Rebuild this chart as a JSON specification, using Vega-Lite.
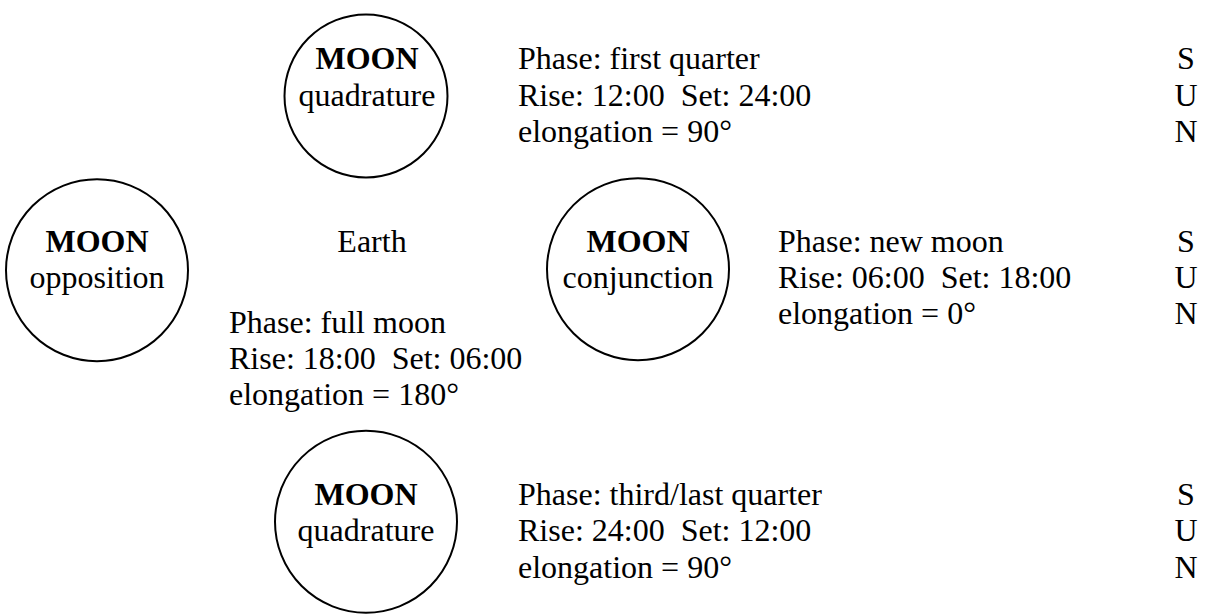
{
  "$schema": "https://vega.github.io/schema/vega-lite/v6.json",
  "width": 1209,
  "height": 615,
  "padding": 0,
  "autosize": {"type": "fit", "contains": "padding"},
  "background": "white",
  "config": {
    "view": {"stroke": null},
    "text": {"font": "Liberation Serif", "fontSize": 32, "color": "black", "baseline": "alphabetic"}
  },
  "datasets": {
    "moons": [
      {"pos": "top", "x": 366, "y": 98, "d": 163},
      {"pos": "left", "x": 97, "y": 276, "d": 182},
      {"pos": "middle", "x": 638, "y": 275, "d": 182},
      {"pos": "bottom", "x": 366, "y": 533, "d": 182}
    ],
    "titles": [
      {"x": 367, "y": 71, "label": "MOON"},
      {"x": 97, "y": 257, "label": "MOON"},
      {"x": 638, "y": 257, "label": "MOON"},
      {"x": 366, "y": 516, "label": "MOON"}
    ],
    "centered": [
      {"x": 367, "y": 108, "label": "quadrature"},
      {"x": 97, "y": 294, "label": "opposition"},
      {"x": 638, "y": 294, "label": "conjunction"},
      {"x": 366, "y": 553, "label": "quadrature"},
      {"x": 372, "y": 257, "label": "Earth"},
      {"x": 1186, "y": 71, "label": "S"},
      {"x": 1186, "y": 108, "label": "U"},
      {"x": 1186, "y": 145, "label": "N"},
      {"x": 1186, "y": 257, "label": "S"},
      {"x": 1186, "y": 294, "label": "U"},
      {"x": 1186, "y": 331, "label": "N"},
      {"x": 1186, "y": 516, "label": "S"},
      {"x": 1186, "y": 553, "label": "U"},
      {"x": 1186, "y": 590, "label": "N"}
    ],
    "info": [
      {"x": 518, "y": 71, "label": "Phase: first quarter"},
      {"x": 518, "y": 108, "label": "Rise: 12:00\u00a0 Set: 24:00"},
      {"x": 518, "y": 145, "label": "elongation = 90°"},
      {"x": 778, "y": 257, "label": "Phase: new moon"},
      {"x": 778, "y": 294, "label": "Rise: 06:00\u00a0 Set: 18:00"},
      {"x": 778, "y": 331, "label": "elongation = 0°"},
      {"x": 229, "y": 340, "label": "Phase: full moon"},
      {"x": 229, "y": 377, "label": "Rise: 18:00\u00a0 Set: 06:00"},
      {"x": 229, "y": 414, "label": "elongation = 180°"},
      {"x": 518, "y": 516, "label": "Phase: third/last quarter"},
      {"x": 518, "y": 553, "label": "Rise: 24:00\u00a0 Set: 12:00"},
      {"x": 518, "y": 590, "label": "elongation = 90°"}
    ]
  },
  "encoding": {
    "x": {"field": "x", "type": "quantitative", "scale": {"domain": [0, 1209], "nice": false, "zero": false}, "axis": null},
    "y": {"field": "y", "type": "quantitative", "scale": {"domain": [0, 615], "nice": false, "zero": false, "reverse": true}, "axis": null}
  },
  "layer": [
    {
      "data": {"name": "moons"},
      "mark": {"type": "point", "shape": "circle", "filled": false, "stroke": "black", "strokeWidth": 2, "opacity": 1, "clip": false},
      "encoding": {
        "size": {"field": "d", "type": "quantitative", "scale": {"type": "pow", "exponent": 2, "domain": [0, 200], "range": [0, 40000]}, "legend": null}
      }
    },
    {
      "data": {"name": "titles"},
      "mark": {"type": "text", "align": "center", "fontWeight": "bold"},
      "encoding": {"text": {"field": "label"}}
    },
    {
      "data": {"name": "centered"},
      "mark": {"type": "text", "align": "center"},
      "encoding": {"text": {"field": "label"}}
    },
    {
      "data": {"name": "info"},
      "mark": {"type": "text", "align": "left"},
      "encoding": {"text": {"field": "label"}}
    }
  ]
}
